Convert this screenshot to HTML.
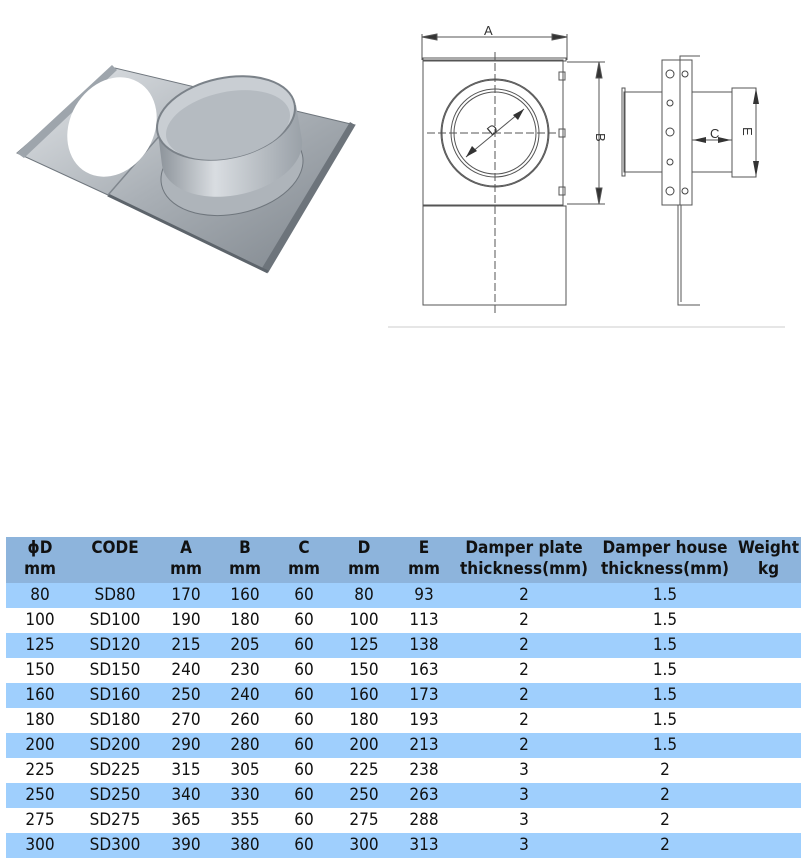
<!DOCTYPE html>
<html><head><meta charset="utf-8"><style>
body{margin:0;width:801px;height:863px;background:#fff;position:relative;overflow:hidden;font-family:"Liberation Sans",Arial,sans-serif}
svg{position:absolute;left:0;top:0}
table{position:absolute;left:6px;top:537px;width:795px;border-collapse:collapse;font-family:"Liberation Sans Narrow","DejaVu Sans Condensed","Liberation Sans",sans-serif;font-size:17px;color:#111}
td{text-align:center;padding:0;height:25px;line-height:25px}
tr.h td{background:#8db4dc;font-weight:bold;height:45px;line-height:21px;vertical-align:top;padding-top:1px}
tr.b td{background:#9fcffd}
</style></head><body>
<svg width="801" height="863" viewBox="0 0 801 863">
<defs>
<linearGradient id="g1" x1="0" y1="0" x2="1" y2="1"><stop offset="0" stop-color="#e4e7ea"/><stop offset="0.5" stop-color="#aab0b6"/><stop offset="1" stop-color="#7d848b"/></linearGradient>
<linearGradient id="g2" x1="0" y1="0" x2="1" y2="0"><stop offset="0" stop-color="#8a9198"/><stop offset="0.4" stop-color="#d9dde1"/><stop offset="1" stop-color="#9aa1a8"/></linearGradient>
</defs>
<polygon points="17,153 115,68 355,125 268,272 108,195" fill="url(#g1)" stroke="#6f767d" stroke-width="1"/>
<polygon points="17,153 112,65 117,70 24,158" fill="#9ea5ac"/>
<polygon points="355,125 350,122 262,268 268,272" fill="#6d747b"/>
<line x1="108" y1="195" x2="268" y2="272" stroke="#5d646b" stroke-width="3"/>
<line x1="108" y1="195" x2="195" y2="95" stroke="#7f868d" stroke-width="1.5"/>
<ellipse cx="112" cy="127" rx="42" ry="52" transform="rotate(30 112 127)" fill="#fff"/>
<ellipse cx="232" cy="170" rx="72" ry="44" transform="rotate(-12 232 170)" fill="#aeb4ba" stroke="#6f767d"/>
<path d="M157,125 L162,165 A70,42 -12 0 0 302,140 L296,105 Z" fill="url(#g2)"/>
<ellipse cx="226" cy="118" rx="70" ry="40" transform="rotate(-12 226 118)" fill="#c9ced3" stroke="#7b8289" stroke-width="2"/>
<ellipse cx="228" cy="125" rx="63" ry="33" transform="rotate(-12 228 125)" fill="#b5bbc1"/>
<g fill="none" stroke="#555" stroke-width="1">
<line x1="422" y1="34" x2="422" y2="60"/><line x1="567" y1="34" x2="567" y2="60"/>
<line x1="422" y1="37" x2="567" y2="37"/>
<polygon points="422,37 437,34 437,40" fill="#333"/><polygon points="567,37 552,34 552,40" fill="#333"/>
<rect x="423" y="58" width="143" height="3"/>
<rect x="423" y="60" width="140" height="145"/>
<line x1="425" y1="206" x2="566" y2="206"/>
<rect x="423" y="206" width="143" height="99"/>
<line x1="567" y1="62" x2="605" y2="62"/><line x1="567" y1="204" x2="605" y2="204"/>
<line x1="599" y1="62" x2="599" y2="204"/>
<polygon points="599,62 596,78 602,78" fill="#333"/><polygon points="599,204 596,188 602,188" fill="#333"/>
<circle cx="495" cy="133" r="54"/><circle cx="495" cy="133" r="53"/>
<circle cx="495" cy="133" r="44"/><circle cx="495" cy="133" r="41"/>
<line x1="495" y1="52" x2="495" y2="313" stroke-dasharray="8,3"/>
<line x1="427" y1="133" x2="556" y2="133" stroke-dasharray="8,3"/>
<line x1="466" y1="157" x2="524" y2="109"/>
<rect x="559" y="72" width="6" height="8"/><rect x="559" y="129" width="6" height="8"/><rect x="559" y="187" width="6" height="8"/>
<rect x="622" y="88" width="3" height="88"/><rect x="624" y="92" width="38" height="80"/>
<rect x="662" y="60" width="18" height="145"/><rect x="680" y="60" width="12" height="145"/>
<polyline points="680,60 680,56 700,56"/>
<rect x="692" y="92" width="40" height="80"/><rect x="732" y="88" width="24" height="89"/>
<line x1="692" y1="140" x2="732" y2="140"/>
<polyline points="678,205 678,305 700,305"/><line x1="681" y1="205" x2="681" y2="302"/>
<line x1="756" y1="88" x2="756" y2="177"/>
</g>
<g fill="none" stroke="#444">
<circle cx="670" cy="74" r="4"/><circle cx="670" cy="103" r="3"/><circle cx="670" cy="132" r="4"/><circle cx="670" cy="162" r="3"/><circle cx="670" cy="191" r="4"/>
<circle cx="685" cy="74" r="3"/><circle cx="685" cy="191" r="3"/>
</g>
<g fill="#333"><polygon points="756,88 753,104 759,104"/><polygon points="756,177 753,161 759,161"/>
<polygon points="693,140 706,137 706,143"/><polygon points="731,140 718,137 718,143"/>
<polygon points="466,157 472,146 477,151"/><polygon points="524,109 518,120 513,115"/></g>
<g font-family="Liberation Sans,sans-serif" font-size="13" fill="#333">
<text x="484" y="35">A</text>
<text x="710" y="138">C</text>
<text x="489" y="137" transform="rotate(-40 489 133)">D</text>
<text x="0" y="0" transform="translate(596,133) rotate(90)">B</text>
<text x="0" y="0" transform="translate(743,127) rotate(90)">E</text>
</g>
<line x1="388" y1="327" x2="785" y2="327" stroke="#e6e6e6" stroke-width="2"/>
</svg>
<table>
<colgroup><col style="width:68px"><col style="width:82px"><col style="width:60px"><col style="width:58px"><col style="width:60px"><col style="width:60px"><col style="width:60px"><col style="width:140px"><col style="width:142px"><col></colgroup>
<tr class="h"><td>ϕD<br>mm</td><td>CODE</td><td>A<br>mm</td><td>B<br>mm</td><td>C<br>mm</td><td>D<br>mm</td><td>E<br>mm</td><td>Damper plate<br>thickness(mm)</td><td>Damper house<br>thickness(mm)</td><td>Weight<br>kg</td></tr>
<tr class="b"><td>80</td><td>SD80</td><td>170</td><td>160</td><td>60</td><td>80</td><td>93</td><td>2</td><td>1.5</td><td></td></tr>
<tr><td>100</td><td>SD100</td><td>190</td><td>180</td><td>60</td><td>100</td><td>113</td><td>2</td><td>1.5</td><td></td></tr>
<tr class="b"><td>125</td><td>SD120</td><td>215</td><td>205</td><td>60</td><td>125</td><td>138</td><td>2</td><td>1.5</td><td></td></tr>
<tr><td>150</td><td>SD150</td><td>240</td><td>230</td><td>60</td><td>150</td><td>163</td><td>2</td><td>1.5</td><td></td></tr>
<tr class="b"><td>160</td><td>SD160</td><td>250</td><td>240</td><td>60</td><td>160</td><td>173</td><td>2</td><td>1.5</td><td></td></tr>
<tr><td>180</td><td>SD180</td><td>270</td><td>260</td><td>60</td><td>180</td><td>193</td><td>2</td><td>1.5</td><td></td></tr>
<tr class="b"><td>200</td><td>SD200</td><td>290</td><td>280</td><td>60</td><td>200</td><td>213</td><td>2</td><td>1.5</td><td></td></tr>
<tr><td>225</td><td>SD225</td><td>315</td><td>305</td><td>60</td><td>225</td><td>238</td><td>3</td><td>2</td><td></td></tr>
<tr class="b"><td>250</td><td>SD250</td><td>340</td><td>330</td><td>60</td><td>250</td><td>263</td><td>3</td><td>2</td><td></td></tr>
<tr><td>275</td><td>SD275</td><td>365</td><td>355</td><td>60</td><td>275</td><td>288</td><td>3</td><td>2</td><td></td></tr>
<tr class="b"><td>300</td><td>SD300</td><td>390</td><td>380</td><td>60</td><td>300</td><td>313</td><td>3</td><td>2</td><td></td></tr>
</table>
</body></html>
